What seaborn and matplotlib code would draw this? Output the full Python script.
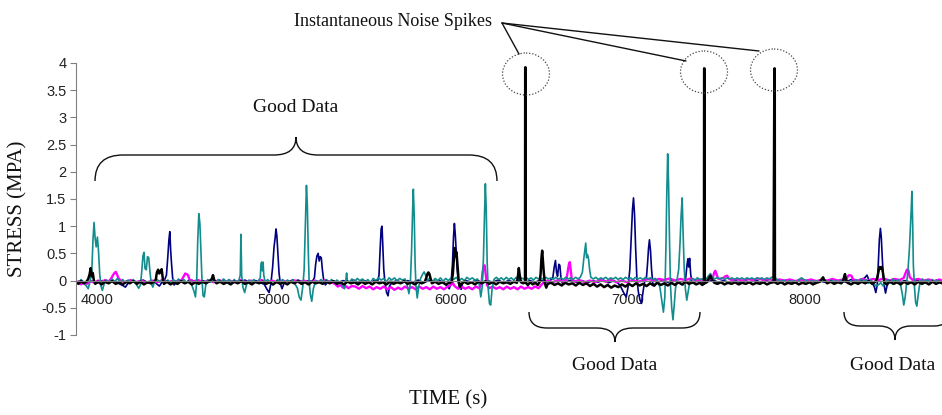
import numpy as np
import pandas as pd
import matplotlib
matplotlib.use("Agg")
import matplotlib.pyplot as plt
from matplotlib.path import Path
from matplotlib.patches import PathPatch, Ellipse
import seaborn as sns

# ---- gauge records: (time [s], stress [MPa]) ----
teal_gauge = [
    (3880, 0.00), (3895, -0.04), (3910, 0.02), (3925, -0.05), (3940, -0.10), (3950, -0.15), (3960, -0.02),
    (3970, 0.15), (3977, 0.75), (3983, 1.07), (3989, 0.78), (3995, 0.62), (4002, 0.80), (4008, 0.55),
    (4015, 0.12), (4022, -0.10), (4030, -0.18), (4040, -0.06), (4055, 0.01), (4070, -0.04), (4085, 0.03),
    (4100, -0.02), (4115, 0.04), (4130, -0.03), (4145, 0.02), (4160, -0.05), (4175, 0.01), (4190, -0.04),
    (4205, 0.02), (4220, -0.06), (4235, -0.14), (4245, -0.08), (4252, 0.15), (4259, 0.45), (4265, 0.52),
    (4271, 0.22), (4278, 0.20), (4285, 0.44), (4292, 0.42), (4299, 0.15), (4306, -0.05), (4315, -0.12),
    (4325, -0.02), (4340, 0.02), (4355, -0.03), (4370, 0.03), (4385, -0.04), (4400, 0.01), (4415, -0.05),
    (4430, 0.02), (4445, -0.03), (4460, 0.03), (4475, -0.02), (4490, 0.02), (4505, -0.04), (4520, 0.01),
    (4535, -0.08), (4548, -0.20), (4556, -0.30), (4563, 0.00), (4569, 0.75), (4575, 1.23), (4581, 1.05),
    (4587, 0.50), (4593, 0.00), (4599, -0.28), (4606, -0.30), (4614, -0.08), (4625, 0.02), (4640, -0.03),
    (4655, 0.03), (4670, -0.04), (4685, 0.02), (4700, -0.03), (4715, 0.03), (4730, -0.02), (4745, 0.02),
    (4760, -0.04), (4775, 0.02), (4790, -0.03), (4802, 0.01), (4809, 0.10), (4813, 0.85), (4817, 0.10),
    (4824, -0.12), (4834, -0.22), (4844, -0.08), (4858, 0.01), (4872, -0.03), (4886, 0.02), (4900, -0.04),
    (4914, 0.01), (4922, 0.05), (4926, 0.30), (4930, 0.34), (4934, 0.18), (4938, 0.34), (4942, 0.10),
    (4950, -0.03), (4964, 0.02), (4978, -0.04), (4992, -0.08), (5006, -0.04), (5020, 0.02), (5034, -0.03),
    (5048, 0.02), (5062, -0.04), (5076, 0.01), (5090, -0.03), (5104, 0.02), (5118, -0.06), (5132, -0.14),
    (5142, -0.30), (5152, -0.36), (5162, -0.12), (5170, 0.20), (5177, 1.00), (5183, 1.75), (5188, 1.40),
    (5193, 0.60), (5198, 0.00), (5205, -0.25), (5213, -0.38), (5222, -0.15), (5235, 0.00), (5250, -0.03),
    (5265, 0.02), (5280, -0.04), (5295, 0.02), (5310, -0.03), (5325, 0.02), (5340, -0.04), (5355, 0.01),
    (5370, -0.03), (5385, -0.08), (5398, -0.15), (5406, 0.02), (5410, 0.14), (5414, 0.00), (5425, -0.03),
    (5440, 0.03), (5455, -0.02), (5470, 0.04), (5485, 0.00), (5500, 0.03), (5515, -0.03), (5530, 0.02),
    (5545, -0.04), (5560, 0.04), (5575, 0.00), (5590, 0.05), (5605, 0.01), (5620, 0.04), (5635, -0.02),
    (5650, 0.05), (5665, 0.01), (5680, 0.05), (5695, 0.00), (5710, 0.04), (5725, 0.01), (5740, 0.03),
    (5752, -0.08), (5762, -0.24), (5770, -0.05), (5777, 0.55), (5783, 1.30), (5787, 1.68), (5792, 1.20),
    (5797, 0.30), (5802, -0.10), (5809, -0.32), (5817, -0.12), (5828, 0.04), (5840, 0.12), (5848, 0.16),
    (5856, 0.10), (5865, 0.00), (5880, 0.05), (5895, -0.02), (5910, 0.04), (5925, 0.00), (5940, 0.05),
    (5955, -0.01), (5970, 0.04), (5985, 0.00), (6000, 0.05), (6015, 0.02), (6030, 0.06), (6045, -0.01),
    (6060, 0.04), (6075, 0.00), (6090, 0.06), (6105, 0.02), (6120, 0.05), (6135, 0.01), (6150, 0.03),
    (6160, -0.08), (6168, -0.30), (6176, -0.12), (6183, 0.40), (6189, 1.20), (6194, 1.78), (6199, 1.30),
    (6204, 0.35), (6210, -0.15), (6217, -0.42), (6224, -0.45), (6232, -0.15), (6242, 0.02), (6256, 0.06),
    (6270, 0.02), (6284, 0.05), (6298, 0.01), (6312, 0.06), (6326, 0.02), (6340, 0.05), (6354, 0.01),
    (6368, 0.06), (6382, 0.02), (6396, 0.05), (6410, 0.03), (6424, 0.06), (6438, 0.02), (6452, 0.05),
    (6466, 0.01), (6480, 0.06), (6494, 0.03), (6508, 0.05), (6522, 0.02), (6536, 0.06), (6550, 0.03),
    (6564, 0.05), (6578, 0.02), (6592, 0.06), (6606, 0.03), (6620, 0.05), (6634, 0.02), (6648, 0.06),
    (6662, 0.03), (6676, 0.05), (6690, 0.02), (6704, 0.06), (6718, 0.03), (6730, 0.06), (6742, 0.15),
    (6750, 0.40), (6756, 0.55), (6761, 0.69), (6766, 0.42), (6771, 0.48), (6777, 0.40), (6783, 0.20),
    (6790, 0.06), (6804, 0.03), (6818, 0.06), (6832, 0.02), (6846, 0.05), (6860, 0.03), (6874, 0.06),
    (6888, 0.02), (6902, 0.05), (6916, 0.03), (6930, 0.06), (6944, 0.02), (6958, 0.05), (6972, 0.02),
    (6986, 0.06), (7000, 0.03), (7014, 0.05), (7028, 0.02), (7042, 0.06), (7056, 0.03), (7070, 0.05),
    (7084, 0.02), (7098, 0.06), (7112, 0.03), (7126, 0.05), (7140, 0.02), (7154, 0.04), (7168, -0.02),
    (7180, -0.12), (7190, -0.35), (7200, -0.58), (7208, -0.30), (7214, 0.60), (7219, 1.60), (7224, 2.33),
    (7229, 1.80), (7234, 0.80), (7240, -0.10), (7247, -0.50), (7254, -0.72), (7261, -0.45), (7268, -0.15),
    (7276, 0.00), (7286, 0.20), (7294, 0.70), (7300, 1.20), (7306, 1.52), (7311, 0.90), (7317, 0.25),
    (7324, -0.15), (7332, -0.36), (7340, -0.20), (7350, 0.00), (7364, 0.04), (7378, 0.01), (7392, 0.05),
    (7406, 0.02), (7420, 0.03), (7434, 0.00), (7446, 0.05), (7458, 0.10), (7466, 0.13), (7476, 0.05),
    (7490, 0.03), (7504, 0.06), (7518, 0.03), (7532, 0.05), (7546, 0.02), (7560, 0.05), (7574, 0.03),
    (7588, 0.05), (7602, 0.02), (7616, 0.05), (7630, 0.03), (7644, 0.05), (7658, 0.02), (7672, 0.05),
    (7686, 0.03), (7700, 0.05), (7714, 0.02), (7728, 0.05), (7742, 0.03), (7756, 0.05), (7770, 0.02),
    (7784, 0.05), (7798, 0.03), (7812, 0.06), (7826, 0.08), (7840, 0.02), (7854, 0.00), (7868, -0.02),
    (7882, 0.01), (7896, -0.03), (7910, 0.00), (7924, -0.02), (7938, 0.00), (7952, -0.03), (7966, 0.02),
    (7980, 0.05), (7994, 0.02), (8008, 0.00), (8022, -0.03), (8036, 0.00), (8050, -0.02), (8064, 0.00),
    (8078, -0.03), (8092, 0.01), (8106, -0.02), (8120, 0.00), (8134, -0.03), (8148, 0.01), (8162, -0.02),
    (8176, 0.00), (8190, -0.03), (8204, 0.01), (8218, -0.02), (8232, 0.02), (8246, -0.04), (8260, 0.00),
    (8274, -0.05), (8288, 0.02), (8302, -0.03), (8316, 0.03), (8330, -0.02), (8344, 0.02), (8358, -0.05),
    (8372, 0.01), (8386, -0.04), (8400, -0.10), (8414, -0.08), (8428, -0.04), (8442, -0.10), (8456, -0.03),
    (8470, 0.02), (8484, -0.04), (8498, 0.03), (8512, -0.03), (8526, 0.02), (8540, -0.08), (8550, -0.25),
    (8558, -0.45), (8566, -0.30), (8574, -0.05), (8582, 0.20), (8590, 0.60), (8596, 1.00), (8600, 1.30),
    (8604, 1.64), (8608, 1.10), (8612, 0.30), (8618, -0.10), (8625, -0.40), (8632, -0.47), (8640, -0.25),
    (8650, -0.02), (8664, 0.03), (8678, -0.03), (8692, 0.02), (8706, -0.04), (8720, 0.02), (8734, -0.03),
    (8748, 0.01), (8762, -0.04), (8775, 0.00),
]

navy_gauge = [
    (3880, -0.03), (3910, 0.00), (3940, -0.05), (3970, -0.01), (4000, -0.04), (4030, 0.00), (4060, -0.04),
    (4090, 0.00), (4120, -0.05), (4145, -0.09), (4160, -0.12), (4175, -0.05), (4200, 0.00), (4230, -0.03),
    (4260, 0.01), (4290, -0.04), (4320, 0.00), (4340, -0.07), (4352, -0.10), (4365, -0.04), (4380, 0.00),
    (4392, 0.10), (4400, 0.45), (4406, 0.75), (4411, 0.90), (4416, 0.55), (4421, 0.30), (4427, 0.05),
    (4435, -0.08), (4448, -0.03), (4475, 0.00), (4505, -0.03), (4535, 0.01), (4565, -0.04), (4595, 0.00),
    (4625, -0.03), (4655, 0.01), (4685, -0.03), (4715, 0.00), (4745, -0.04), (4775, 0.00), (4805, -0.03),
    (4835, 0.01), (4865, -0.04), (4895, 0.00), (4925, -0.04), (4945, -0.07), (4960, -0.16), (4972, -0.22),
    (4982, -0.06), (4992, 0.25), (5000, 0.62), (5006, 0.78), (5011, 0.95), (5016, 0.82), (5022, 0.50),
    (5028, 0.15), (5035, -0.05), (5045, -0.15), (5055, -0.06), (5075, 0.00), (5105, -0.03), (5135, 0.01),
    (5165, -0.03), (5195, 0.00), (5215, -0.02), (5228, 0.05), (5235, 0.30), (5242, 0.45), (5249, 0.50),
    (5255, 0.36), (5261, 0.44), (5267, 0.42), (5273, 0.20), (5280, 0.02), (5290, -0.08), (5302, -0.03),
    (5330, 0.00), (5360, -0.04), (5390, 0.00), (5420, -0.03), (5450, 0.01), (5480, -0.04), (5510, 0.00),
    (5540, -0.03), (5565, 0.00), (5585, -0.02), (5593, 0.10), (5599, 0.55), (5605, 0.95), (5610, 1.00),
    (5615, 0.60), (5620, 0.20), (5627, -0.05), (5636, -0.22), (5644, -0.28), (5652, -0.10), (5668, -0.03),
    (5695, 0.00), (5725, -0.04), (5755, 0.00), (5785, -0.03), (5815, 0.01), (5845, -0.04), (5875, 0.00),
    (5905, -0.03), (5935, 0.00), (5960, -0.04), (5978, -0.10), (5990, -0.15), (6000, -0.05), (6008, 0.30),
    (6014, 0.80), (6019, 1.05), (6024, 0.85), (6029, 0.55), (6035, 0.20), (6042, -0.05), (6050, -0.14),
    (6058, -0.16), (6066, -0.04), (6085, 0.00), (6115, -0.03), (6145, 0.01), (6175, -0.04), (6205, 0.00),
    (6235, -0.03), (6265, 0.01), (6295, -0.04), (6325, 0.00), (6355, -0.03), (6385, 0.01), (6415, -0.04),
    (6445, 0.00), (6475, -0.03), (6505, 0.01), (6535, -0.03), (6560, 0.00), (6575, 0.05), (6583, 0.25),
    (6590, 0.37), (6596, 0.15), (6602, 0.08), (6609, 0.30), (6615, 0.28), (6621, 0.05), (6630, -0.06),
    (6650, -0.02), (6680, 0.01), (6710, -0.03), (6740, 0.00), (6770, -0.04), (6800, 0.00), (6830, -0.03),
    (6860, 0.01), (6890, -0.04), (6920, 0.00), (6945, -0.05), (6960, -0.12), (6975, -0.22), (6990, -0.30),
    (7000, -0.12), (7010, 0.20), (7018, 0.80), (7025, 1.30), (7031, 1.52), (7037, 1.20), (7043, 0.60),
    (7050, 0.05), (7058, -0.20), (7067, -0.35), (7076, -0.42), (7085, -0.20), (7094, -0.02), (7104, 0.05),
    (7110, 0.30), (7116, 0.60), (7121, 0.75), (7127, 0.55), (7133, 0.20), (7140, -0.05), (7150, -0.10),
    (7165, -0.03), (7195, 0.00), (7225, -0.03), (7255, 0.01), (7285, -0.03), (7310, -0.08), (7325, 0.02),
    (7333, 0.28), (7338, 0.40), (7343, 0.25), (7348, 0.41), (7354, 0.12), (7362, -0.05), (7380, -0.02),
    (7400, 0.00), (7418, -0.03), (7428, -0.02), (7429, 3.90), (7431, 3.90), (7432, -0.02), (7450, -0.02),
    (7480, 0.01), (7510, -0.03), (7540, 0.00), (7570, -0.03), (7600, 0.01), (7630, -0.03), (7660, 0.00),
    (7690, -0.03), (7720, 0.01), (7750, -0.03), (7780, 0.00), (7810, -0.03), (7840, 0.00), (7870, -0.03),
    (7900, 0.01), (7930, -0.03), (7960, 0.00), (7990, -0.03), (8020, 0.01), (8050, -0.03), (8080, 0.00),
    (8110, -0.03), (8140, 0.01), (8170, -0.03), (8200, 0.00), (8230, -0.03), (8260, 0.02), (8290, -0.02),
    (8320, 0.01), (8340, 0.06), (8350, 0.10), (8360, 0.02), (8380, -0.04), (8392, -0.12), (8400, -0.22),
    (8408, -0.08), (8414, 0.30), (8420, 0.75), (8426, 0.96), (8431, 0.80), (8436, 0.45), (8442, 0.10),
    (8448, -0.10), (8455, -0.23), (8463, -0.10), (8475, -0.02), (8505, 0.01), (8535, -0.03), (8565, 0.00),
    (8595, -0.03), (8625, 0.01), (8655, -0.03), (8685, 0.00), (8715, -0.03), (8745, 0.01), (8775, -0.02),
]

magenta_gauge = [
    (3880, -0.06), (3895, -0.02), (3910, -0.07), (3925, -0.03), (3945, -0.06), (3965, -0.01), (3985, -0.04),
    (4005, 0.00), (4025, -0.03), (4045, 0.01), (4065, -0.02), (4080, 0.04), (4090, 0.10), (4098, 0.14),
    (4106, 0.16), (4114, 0.10), (4122, 0.04), (4135, 0.00), (4160, -0.03), (4190, 0.01), (4220, -0.03),
    (4250, 0.00), (4280, -0.04), (4310, 0.00), (4340, -0.03), (4370, 0.01), (4400, -0.03), (4430, 0.00),
    (4460, -0.02), (4480, 0.02), (4490, 0.08), (4498, 0.13), (4506, 0.12), (4514, 0.10), (4522, 0.02),
    (4540, -0.02), (4570, 0.01), (4600, -0.03), (4630, 0.00), (4660, -0.03), (4690, 0.01), (4720, -0.03),
    (4750, 0.00), (4780, -0.03), (4810, 0.01), (4840, -0.03), (4870, 0.00), (4900, -0.03), (4930, 0.01),
    (4960, -0.03), (4990, 0.00), (5020, -0.04), (5050, 0.00), (5080, -0.03), (5110, 0.01), (5140, -0.03),
    (5170, 0.00), (5200, -0.04), (5230, 0.00), (5260, -0.03), (5290, 0.01), (5320, -0.03), (5345, -0.06),
    (5360, -0.11), (5375, -0.08), (5390, -0.13), (5405, -0.10), (5420, -0.14), (5440, -0.10), (5460, -0.11),
    (5480, -0.15), (5500, -0.10), (5520, -0.14), (5540, -0.11), (5560, -0.16), (5580, -0.12), (5600, -0.15),
    (5620, -0.11), (5640, -0.16), (5660, -0.12), (5680, -0.17), (5700, -0.13), (5720, -0.16), (5740, -0.11),
    (5760, -0.15), (5780, -0.12), (5800, -0.16), (5820, -0.11), (5840, -0.15), (5860, -0.12), (5880, -0.16),
    (5900, -0.11), (5920, -0.15), (5940, -0.12), (5960, -0.16), (5980, -0.11), (6000, -0.08), (6010, -0.04),
    (6020, -0.10), (6040, -0.15), (6060, -0.11), (6080, -0.15), (6100, -0.12), (6120, -0.16), (6140, -0.11),
    (6160, -0.14), (6172, -0.05), (6178, 0.15), (6184, 0.26), (6190, 0.28), (6196, 0.12), (6203, -0.08),
    (6215, -0.14), (6235, -0.11), (6255, -0.15), (6275, -0.12), (6295, -0.16), (6315, -0.11), (6335, -0.15),
    (6355, -0.12), (6375, -0.16), (6395, -0.11), (6415, -0.15), (6435, -0.12), (6455, -0.15), (6475, -0.11),
    (6495, -0.14), (6510, -0.08), (6525, -0.03), (6545, 0.00), (6575, -0.03), (6605, 0.01), (6635, -0.02),
    (6652, 0.02), (6660, 0.18), (6666, 0.30), (6671, 0.34), (6676, 0.20), (6682, 0.03), (6695, -0.02),
    (6725, 0.01), (6755, -0.03), (6785, 0.00), (6815, -0.03), (6845, 0.01), (6875, -0.02), (6905, 0.01),
    (6935, -0.03), (6965, 0.00), (6995, -0.03), (7025, 0.01), (7055, -0.02), (7085, 0.00), (7115, 0.03),
    (7145, 0.00), (7175, 0.03), (7205, 0.01), (7235, 0.04), (7265, 0.00), (7295, 0.03), (7325, 0.01),
    (7355, 0.04), (7385, 0.00), (7415, 0.02), (7440, 0.00), (7465, 0.03), (7480, 0.06), (7487, 0.15),
    (7493, 0.18), (7500, 0.12), (7508, 0.04), (7520, 0.03), (7540, 0.05), (7550, 0.08), (7560, 0.09),
    (7568, 0.04), (7585, 0.01), (7615, 0.03), (7645, 0.00), (7675, 0.03), (7705, 0.01), (7735, 0.04),
    (7765, 0.01), (7795, 0.03), (7825, 0.00), (7855, 0.02), (7885, 0.00), (7915, 0.02), (7945, -0.01),
    (7975, 0.02), (8005, 0.00), (8035, 0.02), (8065, -0.01), (8095, 0.02), (8125, 0.00), (8155, 0.03),
    (8185, 0.00), (8215, 0.02), (8235, 0.03), (8242, 0.08), (8250, 0.10), (8262, 0.09), (8272, 0.02),
    (8295, 0.00), (8325, 0.03), (8355, 0.00), (8385, 0.03), (8415, 0.01), (8445, 0.04), (8475, 0.00),
    (8505, 0.03), (8535, 0.01), (8558, 0.05), (8568, 0.14), (8576, 0.20), (8584, 0.19), (8592, 0.06),
    (8610, 0.01), (8640, 0.03), (8670, 0.00), (8700, 0.02), (8730, -0.01), (8760, 0.02), (8775, 0.00),
]

black_gauge = [
    (3880, -0.02), (3895, -0.06), (3910, -0.01), (3925, -0.05), (3940, -0.02), (3950, 0.03), (3958, 0.12),
    (3964, 0.23), (3970, 0.08), (3976, 0.14), (3982, 0.00), (3990, -0.06), (4005, -0.02), (4025, -0.07),
    (4045, -0.02), (4065, -0.05), (4085, -0.01), (4105, -0.06), (4125, -0.03), (4145, -0.07), (4165, -0.02),
    (4185, -0.05), (4205, -0.01), (4225, -0.06), (4245, -0.02), (4265, -0.07), (4285, -0.03), (4305, -0.05),
    (4322, -0.02), (4332, 0.02), (4338, 0.15), (4345, 0.20), (4352, 0.13), (4358, 0.17), (4365, 0.21),
    (4371, 0.05), (4378, -0.06), (4395, -0.02), (4415, -0.07), (4435, -0.03), (4455, -0.06), (4475, -0.01),
    (4495, -0.05), (4515, -0.02), (4535, -0.07), (4555, -0.03), (4575, -0.06), (4595, -0.02), (4615, -0.05),
    (4635, -0.01), (4648, 0.03), (4655, 0.10), (4662, 0.01), (4675, -0.05), (4695, -0.02), (4715, -0.06),
    (4735, -0.03), (4755, -0.07), (4775, -0.02), (4795, -0.05), (4815, -0.01), (4835, -0.06), (4855, -0.03),
    (4875, -0.07), (4895, -0.02), (4915, -0.05), (4935, -0.02), (4955, -0.06), (4975, -0.03), (4995, -0.07),
    (5015, -0.02), (5035, -0.06), (5055, -0.03), (5075, -0.07), (5095, -0.02), (5115, -0.05), (5135, -0.01),
    (5155, -0.06), (5175, -0.03), (5195, -0.07), (5215, -0.02), (5235, -0.05), (5255, -0.03), (5275, -0.06),
    (5295, -0.02), (5315, -0.05), (5335, -0.01), (5355, -0.06), (5375, -0.03), (5395, -0.07), (5415, -0.02),
    (5435, -0.05), (5455, -0.03), (5475, -0.07), (5495, -0.02), (5515, -0.06), (5535, -0.03), (5555, -0.07),
    (5575, -0.02), (5595, -0.05), (5615, -0.03), (5635, -0.07), (5655, -0.02), (5675, -0.06), (5695, -0.03),
    (5715, -0.05), (5735, -0.01), (5755, -0.06), (5775, -0.03), (5795, -0.07), (5815, -0.02), (5835, -0.05),
    (5852, -0.02), (5860, 0.05), (5866, 0.12), (5872, 0.15), (5878, 0.12), (5885, 0.03), (5892, -0.05),
    (5910, -0.02), (5930, -0.06), (5950, -0.03), (5970, -0.07), (5990, -0.04), (6004, -0.02), (6010, 0.12),
    (6016, 0.40), (6021, 0.60), (6026, 0.45), (6031, 0.52), (6037, 0.25), (6043, 0.00), (6050, -0.12),
    (6058, -0.06), (6075, -0.02), (6095, -0.06), (6115, -0.03), (6135, -0.07), (6155, -0.02), (6175, -0.05),
    (6195, -0.01), (6215, -0.06), (6235, -0.03), (6255, -0.07), (6275, -0.02), (6295, -0.05), (6315, -0.03),
    (6335, -0.06), (6355, -0.02), (6372, -0.04), (6378, 0.08), (6383, 0.23), (6388, 0.10), (6395, -0.03),
    (6408, -0.05), (6418, -0.03), (6419, 3.92), (6421, 3.92), (6422, -0.04), (6434, -0.08), (6448, -0.03),
    (6462, -0.07), (6476, -0.04), (6490, -0.08), (6500, -0.03), (6506, 0.12), (6511, 0.42), (6515, 0.55),
    (6519, 0.38), (6524, 0.15), (6530, -0.05), (6538, -0.13), (6546, -0.06), (6565, -0.04), (6585, -0.08),
    (6605, -0.05), (6625, -0.09), (6645, -0.04), (6665, -0.07), (6685, -0.05), (6705, -0.09), (6725, -0.04),
    (6745, -0.08), (6765, -0.05), (6785, -0.10), (6805, -0.06), (6825, -0.11), (6845, -0.07), (6865, -0.12),
    (6885, -0.08), (6905, -0.13), (6925, -0.09), (6945, -0.12), (6965, -0.07), (6985, -0.11), (7005, -0.06),
    (7025, -0.10), (7045, -0.05), (7065, -0.09), (7085, -0.06), (7105, -0.10), (7125, -0.05), (7145, -0.09),
    (7165, -0.04), (7185, -0.08), (7205, -0.05), (7225, -0.09), (7245, -0.04), (7265, -0.08), (7285, -0.03),
    (7305, -0.07), (7325, -0.02), (7345, -0.06), (7365, -0.03), (7385, -0.07), (7405, -0.04), (7420, -0.08),
    (7429, -0.05), (7430, 3.90), (7432, 3.90), (7433, -0.05), (7445, -0.03), (7458, 0.05), (7466, 0.09),
    (7474, 0.02), (7488, -0.04), (7505, -0.06), (7525, -0.03), (7545, -0.07), (7565, -0.04), (7585, -0.06),
    (7605, -0.03), (7625, -0.07), (7645, -0.04), (7665, -0.06), (7685, -0.03), (7705, -0.07), (7725, -0.04),
    (7745, -0.06), (7765, -0.03), (7785, -0.07), (7805, -0.04), (7822, -0.03), (7827, 3.90), (7829, 3.90),
    (7830, -0.03), (7845, -0.06), (7865, -0.03), (7885, -0.07), (7905, -0.04), (7925, -0.06), (7945, -0.03),
    (7965, -0.07), (7985, -0.04), (8005, -0.06), (8025, -0.03), (8045, -0.07), (8065, -0.04), (8085, -0.02),
    (8095, 0.03), (8102, 0.06), (8110, 0.00), (8125, -0.05), (8145, -0.02), (8165, -0.06), (8185, -0.03),
    (8205, -0.05), (8215, -0.01), (8222, 0.08), (8226, 0.12), (8231, 0.02), (8240, -0.04), (8260, -0.07),
    (8280, -0.03), (8300, -0.06), (8320, -0.02), (8340, -0.05), (8360, -0.01), (8380, -0.06), (8398, -0.02),
    (8408, 0.05), (8416, 0.18), (8422, 0.25), (8428, 0.22), (8434, 0.25), (8440, 0.15), (8448, -0.03),
    (8460, -0.07), (8480, -0.02), (8500, -0.06), (8520, -0.03), (8540, -0.07), (8560, -0.02), (8580, -0.06),
    (8600, -0.03), (8620, -0.07), (8640, -0.02), (8660, -0.06), (8680, -0.03), (8700, -0.07), (8720, -0.02),
    (8740, -0.06), (8760, -0.03), (8775, -0.05),
]

time_ticks = [4000, 5000, 6000, 7000, 8000]
stress_ticks = [-1, -0.5, 0, 0.5, 1, 1.5, 2, 2.5, 3, 3.5, 4]
stress_tick_labels = ["-1", "-0.5", "0", "0.5", "1", "1.5", "2", "2.5", "3", "3.5", "4"]

# drawing order: navy, magenta, teal, black on top
series = [
    ("navy", navy_gauge, "#000080", 1.2),
    ("magenta", magenta_gauge, "#FF00FF", 1.7),
    ("teal", teal_gauge, "#128c8c", 1.2),
    ("black", black_gauge, "#000000", 1.8),
]

frames = []
for name, pts, _, _ in series:
    d = pd.DataFrame(pts, columns=["time", "stress"])
    d["gauge"] = name
    frames.append(d)
records = pd.concat(frames, ignore_index=True)

sns.set_style("white")
plt.rcParams["font.family"] = ["Liberation Sans", "DejaVu Sans"]
SERIF = ["Liberation Serif", "DejaVu Serif"]

W, H = 942, 415
fig = plt.figure(figsize=(W / 100, H / 100), dpi=100)
ax = fig.add_axes([76 / W, (H - 335) / H, (W - 76) / W, 272 / H])

for name, _, color, lw in series:
    sns.lineplot(data=records[records["gauge"] == name], x="time", y="stress",
                 color=color, linewidth=lw, estimator=None, sort=False,
                 legend=False, ax=ax)

ax.set_xlim(3881, 8774)
ax.set_ylim(-1, 4)
ax.set_yticks(stress_ticks)
ax.set_yticklabels(stress_tick_labels)
ax.set_xticks(time_ticks)
ax.set_xticklabels([str(t) for t in time_ticks])

for s in ("top", "right"):
    ax.spines[s].set_visible(False)
ax.spines["bottom"].set_position(("data", 0))
ax.spines["bottom"].set_color("#808080")
ax.spines["bottom"].set_linewidth(0.8)
ax.spines["left"].set_color("#808080")
ax.spines["left"].set_linewidth(0.8)

ax.tick_params(axis="y", which="major", direction="out", length=4, width=0.8,
               color="#808080", pad=3, labelsize=10.5, labelcolor="#222222", left=True)
ax.tick_params(axis="x", which="major", length=0, pad=9, labelsize=10.5,
               labelcolor="#222222")

ax.set_xlabel("TIME (s)", family=SERIF, fontsize=15, color="#111111", va="center")
ax.xaxis.set_label_coords((448 - 76) / 866, (335 - 400) / 272)
ax.set_ylabel("STRESS (MPA)", family=SERIF, fontsize=15, color="#111111", va="center")
ax.yaxis.set_label_coords((18 - 76) / 866, (335 - 209) / 272)

# ---- annotation layer in pixel coordinates ----
ov = fig.add_axes([0, 0, 1, 1], zorder=5)
ov.set_xlim(0, W)
ov.set_ylim(H, 0)
ov.axis("off")
ov.patch.set_alpha(0)


def curly_brace(x0, x1, xm, y_tip, y_bar, y_mid, r_end, r_mid):
    verts = [
        (x0, y_tip), (x0, y_bar), (x0 + r_end, y_bar),
        (xm - r_mid, y_bar), (xm, y_bar), (xm, y_mid),
        (xm, y_bar), (xm + r_mid, y_bar),
        (x1 - r_end, y_bar), (x1, y_bar), (x1, y_tip),
    ]
    codes = [
        Path.MOVETO, Path.CURVE3, Path.CURVE3,
        Path.LINETO, Path.CURVE3, Path.CURVE3,
        Path.CURVE3, Path.CURVE3,
        Path.LINETO, Path.CURVE3, Path.CURVE3,
    ]
    ov.add_patch(PathPatch(Path(verts, codes), fill=False, lw=1.0,
                           edgecolor="#111111", clip_on=False))


curly_brace(95, 497, 296, 181, 155, 137, 28, 22)
curly_brace(529, 700, 615, 312, 328, 342, 18, 18)
curly_brace(844, 950, 895, 312, 326, 340, 16, 16)

ov.text(296, 107, "Good Data", family=SERIF, fontsize=14, ha="center", va="center", color="#111111")
ov.text(615, 365, "Good Data", family=SERIF, fontsize=14, ha="center", va="center", color="#111111")
ov.text(893, 365, "Good Data", family=SERIF, fontsize=14, ha="center", va="center", color="#111111")

ov.text(492, 22, "Instantaneous Noise Spikes", family=SERIF, fontsize=13,
        ha="right", va="center", color="#111111")
for cx, cy in [(526, 74), (704, 72), (774, 70)]:
    ov.add_patch(Ellipse((cx, cy), 47, 42, fill=False, ls=(0, (1, 1.5)), lw=0.9,
                         edgecolor="#444444"))
for ex, ey in [(519, 54), (686, 61), (759, 51)]:
    ov.plot([502, ex], [23, ey], color="#111111", lw=1.0)

fig.savefig("out.png", dpi=100)
